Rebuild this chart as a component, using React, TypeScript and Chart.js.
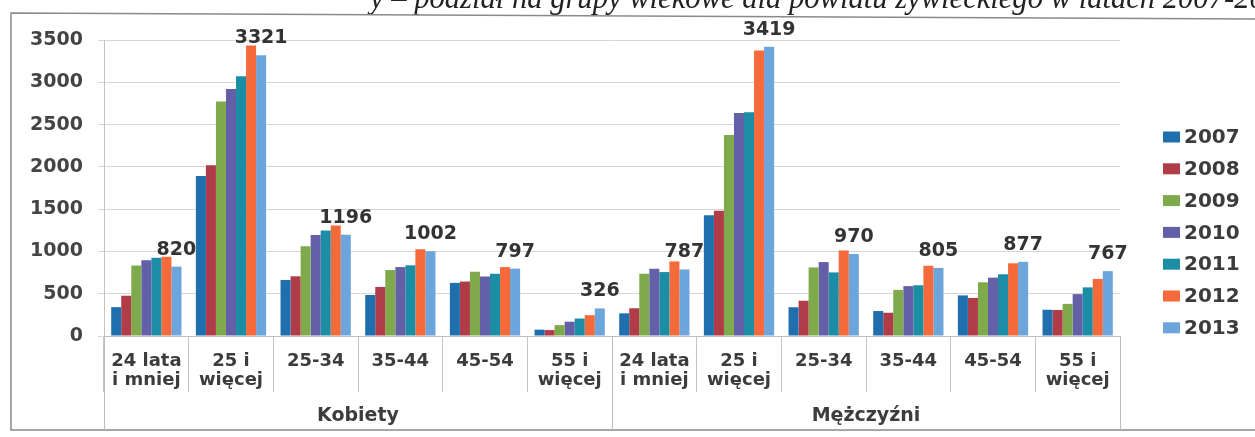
import React, { useEffect, useRef } from "react";
import { Chart, registerables } from "chart.js";

Chart.register(...registerables);

// ---- data ----
const categories: (string | string[])[] = [
  ["24 lata", "i mniej"], ["25 i", "więcej"], "25-34", "35-44", "45-54", ["55 i", "więcej"],
  ["24 lata", "i mniej"], ["25 i", "więcej"], "25-34", "35-44", "45-54", ["55 i", "więcej"],
];
const groups = ["Kobiety", "Mężczyźni"];
const groupSize = 6;
const years = ["2007", "2008", "2009", "2010", "2011", "2012", "2013"];

const v2007 = [341, 1893, 663, 485, 628, 75, 268, 1429, 340, 295, 480, 310];
const v2008 = [476, 2020, 706, 580, 644, 70, 328, 1480, 417, 275, 450, 308];
const v2009 = [833, 2774, 1060, 780, 760, 129, 736, 2376, 811, 545, 635, 380];
const v2010 = [896, 2920, 1194, 815, 704, 169, 795, 2637, 874, 590, 690, 495];
const v2011 = [925, 3070, 1246, 836, 736, 207, 756, 2645, 752, 600, 730, 575];
const v2012 = [937, 3434, 1306, 1027, 815, 246, 882, 3375, 1012, 830, 860, 675];
const v2013 = [820, 3321, 1196, 1002, 797, 326, 787, 3419, 970, 805, 877, 767];
const series = [v2007, v2008, v2009, v2010, v2011, v2012, v2013];

const colors = ["#1f6fae", "#b03c48", "#7eaa4c", "#6360a8", "#1b8ea6", "#f56a3a", "#6ca4dc"];

const yMin = 0;
const yMax = 3500;
const yStep = 500;

const titleText = "y – podział na grupy wiekowe dla powiatu żywieckiego w latach 2007-2013";

const FONT = '"DejaVu Sans", Verdana, sans-serif';
const TEXT = "#3c3c3c";

const decor = {
  id: "decor",
  beforeDraw(chart: any) {
    const ctx = chart.ctx;
    ctx.save();
    ctx.fillStyle = "#ffffff";
    ctx.fillRect(0, 0, chart.width, chart.height);
    // title (cut by the page top)
    ctx.fillStyle = "#222";
    ctx.font = 'italic 30.6px "Liberation Serif", "DejaVu Serif", serif';
    ctx.textAlign = "left";
    ctx.textBaseline = "alphabetic";
    ctx.fillText(titleText, 370, 8);
    // frame
    ctx.strokeStyle = "#8a8a8a";
    ctx.lineWidth = 1.5;
    ctx.beginPath();
    ctx.moveTo(1260, 19);
    ctx.lineTo(11, 13);
    ctx.lineTo(11, 430);
    ctx.lineTo(1260, 430);
    ctx.stroke();
    ctx.restore();
  },
  afterDatasetsDraw(chart: any) {
    const ctx = chart.ctx;
    const last = chart.data.datasets.length - 1;
    const meta = chart.getDatasetMeta(last);
    ctx.save();
    ctx.fillStyle = "#333";
    ctx.font = `bold 19px ${FONT}`;
    ctx.textAlign = "center";
    ctx.textBaseline = "alphabetic";
    meta.data.forEach((bar: any, i: number) => {
      ctx.fillText(String(chart.data.datasets[last].data[i]), bar.x, bar.y - 12);
    });
    ctx.restore();
  },
  afterDraw(chart: any) {
    const ctx = chart.ctx;
    const xs = chart.scales.x;
    const area = chart.chartArea;
    ctx.save();
    // long group dividers
    ctx.strokeStyle = "#bdbdbd";
    ctx.lineWidth = 1;
    const bounds: number[] = [];
    for (let g = 0; g <= groups.length; g++) {
      const idx = g * groupSize;
      let px: number;
      if (idx === 0) px = xs.left;
      else if (idx >= categories.length) px = xs.right;
      else px = (xs.getPixelForValue(idx - 1) + xs.getPixelForValue(idx)) / 2;
      bounds.push(px);
      ctx.beginPath();
      ctx.moveTo(Math.round(px) + 0.5, area.bottom);
      ctx.lineTo(Math.round(px) + 0.5, 430);
      ctx.stroke();
    }
    // group labels
    ctx.fillStyle = TEXT;
    ctx.font = `bold 19px ${FONT}`;
    ctx.textAlign = "center";
    ctx.textBaseline = "alphabetic";
    groups.forEach((g, i) => {
      ctx.fillText(g, (bounds[i] + bounds[i + 1]) / 2, 421);
    });
    // legend
    ctx.font = `bold 20px ${FONT}`;
    ctx.textAlign = "left";
    ctx.textBaseline = "middle";
    chart.data.datasets.forEach((ds: any, i: number) => {
      const cy = 137 + i * 31.8;
      ctx.fillStyle = ds.backgroundColor;
      ctx.fillRect(1163, cy - 5.5, 17, 11);
      ctx.fillStyle = TEXT;
      ctx.fillText(ds.label, 1184, cy + 1);
    });
    ctx.restore();
  },
};

export default function App() {
  const ref = useRef<HTMLCanvasElement | null>(null);
  useEffect(() => {
    if (!ref.current) return;
    const chart = new Chart(ref.current, {
      type: "bar",
      data: {
        labels: categories,
        datasets: years.map((y, i) => ({
          label: y,
          data: series[i],
          backgroundColor: colors[i],
          borderWidth: 0,
          barPercentage: 1.0,
          categoryPercentage: 0.83,
        })),
      },
      options: {
        responsive: false,
        maintainAspectRatio: false,
        animation: false,
        devicePixelRatio: 1,
        layout: { padding: { top: 40, right: 135, bottom: 0, left: 0 } },
        plugins: {
          legend: { display: false },
          tooltip: { enabled: false },
          title: { display: false },
        },
        scales: {
          x: {
            grid: {
              display: true,
              drawOnChartArea: false,
              offset: true,
              tickLength: 56,
              color: "#c4c4c4",
              lineWidth: 1,
            },
            border: { display: true, color: "#bdbdbd" },
            ticks: {
              autoSkip: false,
              maxRotation: 0,
              minRotation: 0,
              padding: -41,
              color: TEXT,
              font: { family: FONT, size: 18, weight: "bold", lineHeight: 1.1 },
            },
            afterFit: (s: any) => {
              s.height = 101;
            },
          },
          y: {
            min: yMin,
            max: yMax,
            ticks: {
              stepSize: yStep,
              padding: 15,
              color: "#444",
              font: { family: FONT, size: 19, weight: "bold" },
              callback: (v: any) => String(v),
            },
            grid: { color: "#d6d6d6", tickLength: 6, lineWidth: 1 },
            border: { display: true, color: "#c4c4c4" },
            afterFit: (s: any) => {
              s.width = 104;
            },
          },
        },
      } as any,
      plugins: [decor],
    });
    return () => chart.destroy();
  }, []);
  return (
    <div style={{ position: "fixed", left: 0, top: 0, width: 1255, height: 437, background: "#fff" }}>
      <canvas ref={ref} width={1255} height={437} style={{ display: "block", width: 1255, height: 437 }} />
    </div>
  );
}
